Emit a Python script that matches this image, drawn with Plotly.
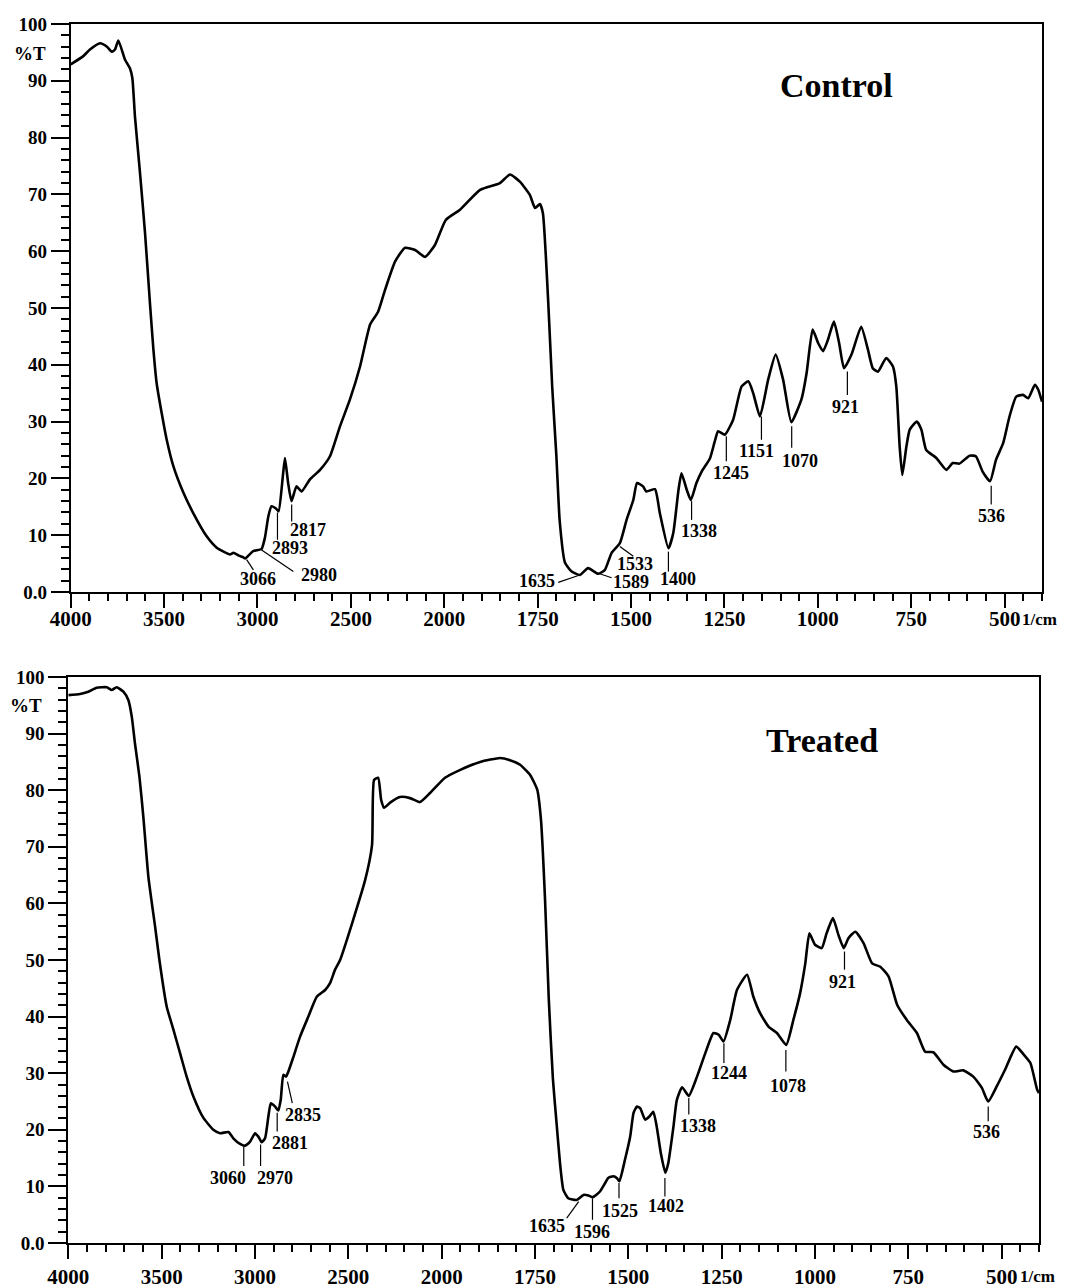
import plotly.graph_objects as go
import numpy as np

# ---------------- data (wavenumber in 1/cm, transmittance %T) ----------------
control_wn = [4000, 3934, 3897, 3843, 3806, 3780, 3763, 3745, 3709, 3683, 3670, 3656, 3629, 3602,
              3575, 3557, 3540, 3513, 3486, 3450, 3397, 3344, 3272, 3218, 3147, 3129, 3100, 3076,
              3066, 3023, 2978, 2960, 2942, 2925, 2901, 2887, 2866, 2853, 2836, 2818, 2791, 2764,
              2720, 2665, 2612, 2558, 2505, 2451, 2397, 2355, 2317, 2263, 2210, 2156, 2103, 2050,
              1996, 1958, 1904, 1851, 1824, 1797, 1771, 1757, 1744, 1736, 1722, 1711, 1700, 1691,
              1677, 1659, 1637, 1615, 1588, 1570, 1552, 1530, 1512, 1494, 1484, 1468, 1459, 1436,
              1423, 1400, 1387, 1373, 1365, 1351, 1340, 1325, 1311, 1289, 1276, 1267, 1249, 1227,
              1204, 1186, 1173, 1155, 1133, 1113, 1093, 1071, 1044, 1030, 1014, 999, 986, 973,
              957, 943, 930, 910, 884, 866, 853, 839, 817, 799, 790, 781, 774, 763, 754, 735, 723,
              710, 683, 656, 639, 621, 594, 577, 559, 539, 523, 504, 487, 469, 451, 437, 419, 410, 400]
control_T = [92.9, 94.3, 95.5, 96.6, 96.0, 95.1, 95.5, 97.1, 93.7, 92.2, 90.5, 83.7, 73.8, 63.2,
             50.5, 42.6, 36.8, 31.5, 26.8, 22.1, 17.5, 13.9, 9.8, 7.8, 6.6, 6.9, 6.4, 6.1,
             5.9, 7.2, 7.6, 9.6, 13.3, 15.1, 14.7, 14.2, 19.8, 23.6, 19.2, 16.0, 18.6, 17.7,
             19.8, 21.5, 23.9, 29.2, 33.9, 39.7, 47.1, 49.3, 53.2, 58.2, 60.6, 60.2, 59.0, 61.1,
             65.5, 67.3, 70.8, 72.0, 73.5, 72.2, 69.9, 67.6, 68.3, 66.7, 51.4, 36.0, 24.0, 12.5,
             5.2, 3.6, 3.0, 4.2, 3.2, 3.9, 6.9, 8.6, 12.7, 16.2, 19.2, 18.6, 17.7, 18.1,
             13.9, 7.7, 10.4, 18.0, 20.9, 18.0, 16.2, 19.2, 21.2, 23.5, 26.5, 28.3, 27.7, 30.3,
             36.2, 37.1, 35.0, 30.9, 37.4, 41.8, 37.4, 29.9, 33.9, 38.6, 46.2, 43.8, 42.4, 44.4,
             47.6, 43.8, 39.4, 41.8, 46.7, 42.7, 39.4, 38.8, 41.2, 39.7, 36.2, 25.6, 20.6, 25.6, 28.6, 30.0, 28.6,
             25.0, 23.6, 21.5, 22.7, 22.6, 24.0, 23.9, 21.2, 19.5, 23.3, 26.2, 30.9, 34.4, 34.7, 34.1, 36.5, 35.6, 33.5]

treated_wn = [4000, 3937, 3893, 3848, 3794, 3767, 3741, 3705, 3678, 3660, 3643, 3619, 3598, 3571,
              3535, 3512, 3473, 3437, 3401, 3366, 3330, 3276, 3223, 3187, 3142, 3116, 3080, 3053,
              3026, 3000, 2982, 2964, 2946, 2928, 2915, 2892, 2875, 2862, 2848, 2834, 2821, 2794,
              2758, 2714, 2669, 2624, 2598, 2571, 2544, 2410, 2373, 2362, 2340, 2324, 2308, 2276,
              2223, 2169, 2116, 2062, 1991, 1950, 1897, 1843, 1817, 1790, 1763, 1744, 1734, 1723,
              1713, 1702, 1692, 1683, 1674, 1661, 1638, 1620, 1607, 1595, 1576, 1562, 1554, 1540,
              1531, 1524, 1509, 1495, 1486, 1477, 1468, 1455, 1443, 1433, 1424, 1413, 1401, 1393,
              1379, 1370, 1356, 1338, 1316, 1294, 1272, 1258, 1245, 1227, 1209, 1182, 1165, 1147,
              1124, 1102, 1077, 1058, 1040, 1026, 1015, 1000, 982, 969, 952, 937, 923, 910, 892,
              870, 847, 825, 803, 780, 754, 727, 705, 683, 656, 629, 603, 576, 553, 536, 513, 491,
              461, 441, 423, 405, 400]
treated_T = [96.8, 97.0, 97.4, 98.1, 98.2, 97.7, 98.2, 97.4, 95.9, 93.0, 88.3, 82.4, 75.3, 64.7,
             55.9, 50.0, 41.8, 37.7, 33.5, 29.4, 25.9, 22.1, 20.0, 19.4, 19.6, 18.5, 17.5, 17.2,
             17.9, 19.4, 18.8, 17.8, 18.5, 22.4, 24.7, 24.1, 23.4, 25.3, 29.7, 29.4, 30.3, 32.9,
             36.5, 40.0, 43.5, 44.7, 45.9, 48.3, 50.0, 64.1, 70.3, 81.8, 82.2, 78.3, 76.9, 77.8,
             78.8, 78.6, 77.9, 79.5, 82.2, 83.6, 85.0, 85.7, 85.3, 84.5, 82.7, 80.1, 74.8, 60.6,
             43.0, 29.0, 21.0, 14.1, 9.4, 7.9, 7.6, 8.5, 8.4, 8.1, 9.1, 10.6, 11.5, 11.8,
             11.5, 10.9, 14.7, 18.8, 23.0, 24.1, 23.8, 21.8, 22.4, 23.2, 20.6, 15.9, 12.4, 14.1,
             20.6, 25.3, 27.5, 26.0, 29.4, 33.5, 37.1, 36.8, 35.6, 39.4, 44.7, 47.4, 43.5, 40.6,
             38.2, 37.1, 35.0, 39.4, 44.1, 49.4, 54.7, 52.7, 52.1, 54.7, 57.4, 54.4, 52.1, 53.9, 55.0,
             53.0, 49.4, 48.8, 47.1, 42.1, 39.4, 37.1, 33.8, 33.7, 31.5, 30.3, 30.5, 29.4, 27.4, 25.0, 27.7, 30.6,
             34.7, 33.3, 31.8, 27.1, 26.5]

x_tick_labels = [4000, 3500, 3000, 2500, 2000, 1750, 1500, 1250, 1000, 750, 500]
y_tick_values = [0, 10, 20, 30, 40, 50, 60, 70, 80, 90, 100]
y_tick_text = ["0.0", "10", "20", "30", "40", "50", "60", "70", "80", "90", "100"]

# peak labels: (label, line start wn, line start T, line end wn, line end T, text wn, text T)
control_peaks = [
    ("2817", 2817, 15.4, 2817, 12.4, 2727, 11.0),
    ("2893", 2893, 14.0, 2893, 9.2, 2826, 7.8),
    ("3066", 3058, 5.7, 3022, 3.9, 2996, 2.3),
    ("2980", 2978, 7.4, 2808, 3.6, 2672, 3.0),
    ("1635", 1637, 3.0, 1695, 1.7, 1753, 1.9),
    ("1589", 1588, 3.3, 1552, 2.5, 1500, 1.7),
    ("1533", 1530, 8.0, 1494, 6.3, 1490, 5.0),
    ("1400", 1400, 7.1, 1400, 3.6, 1374, 2.3),
    ("1338", 1338, 16.0, 1338, 12.7, 1317, 10.8),
    ("1245", 1245, 27.4, 1245, 23.0, 1233, 21.0),
    ("1151", 1151, 30.9, 1151, 26.8, 1163, 24.9),
    ("1070", 1070, 29.2, 1070, 25.4, 1048, 23.1),
    ("921", 921, 38.8, 921, 34.7, 926, 32.5),
    ("536", 536, 18.7, 536, 15.4, 534, 13.4),
]
treated_peaks = [
    ("3060", 3060, 17.1, 3060, 13.6, 3144, 11.5),
    ("2970", 2970, 17.4, 2970, 13.6, 2892, 11.5),
    ("2881", 2881, 23.0, 2881, 19.7, 2812, 17.7),
    ("2835", 2826, 28.5, 2800, 24.7, 2741, 22.7),
    ("1635", 1633, 7.3, 1665, 4.4, 1717, 3.0),
    ("1596", 1596, 7.9, 1596, 4.1, 1596, 2.0),
    ("1525", 1525, 10.6, 1525, 7.9, 1522, 5.6),
    ("1402", 1402, 11.5, 1402, 8.2, 1399, 6.5),
    ("1338", 1338, 25.6, 1338, 22.7, 1314, 20.6),
    ("1244", 1244, 35.3, 1244, 31.8, 1231, 30.0),
    ("1078", 1078, 34.1, 1078, 30.3, 1072, 27.8),
    ("921", 921, 51.5, 921, 48.3, 927, 46.2),
    ("536", 536, 24.1, 536, 21.5, 540, 19.6),
]


# ---------------- axis transform (scale doubles below 2000 1/cm) ----------------
def to_u(w):
    w = np.asarray(w, dtype=float)
    return np.where(w >= 2000, (4000 - w) / 500.0, 4 + (2000 - w) / 250.0)


FONT = "Liberation Serif"
OFF = 8                      # page body margin offset
W, H = 1066 - OFF, 1288 - OFF


def fx(px):                  # page x-pixel -> paper fraction
    return (px - OFF) / W


def fy(py):                  # page y-pixel -> paper fraction (from bottom)
    return 1 - (py - OFF) / H


fig = go.Figure()

fig.add_trace(go.Scatter(x=to_u(control_wn), y=control_T, mode="lines",
                         line=dict(color="black", width=2.6, shape="spline", smoothing=0.5),
                         xaxis="x", yaxis="y", showlegend=False, hoverinfo="skip"))
fig.add_trace(go.Scatter(x=to_u(treated_wn), y=treated_T, mode="lines",
                         line=dict(color="black", width=2.6, shape="spline", smoothing=0.5),
                         xaxis="x2", yaxis="y2", showlegend=False, hoverinfo="skip"))

tickvals_u = [float(v) for v in to_u(x_tick_labels)]
ticktext_x = [str(v) for v in x_tick_labels]
minor_u = [round(v, 3) for v in np.arange(0, 10.41, 0.2)]


def xaxis_cfg(domain, anchor, standoff):
    return dict(domain=domain, anchor=anchor, range=[0, 10.4], showgrid=False, zeroline=False,
                automargin=False,
                showline=True, linecolor="black", linewidth=2, mirror=True,
                ticks="outside", ticklen=14, tickwidth=2, tickcolor="black",
                tickmode="array", tickvals=tickvals_u, ticktext=ticktext_x,
                ticklabelstandoff=standoff,
                tickfont=dict(family=FONT, size=21, color="black", weight="bold"),
                minor=dict(tickmode="array", tickvals=minor_u, ticks="outside", ticklen=7,
                           tickwidth=1.6, tickcolor="black"))


def yaxis_cfg(domain, anchor):
    return dict(domain=domain, anchor=anchor, range=[0, 100], showgrid=False, zeroline=False,
                automargin=False,
                showline=True, linecolor="black", linewidth=2, mirror=True,
                ticks="outside", ticklen=18, tickwidth=2, tickcolor="black",
                tickmode="array", tickvals=y_tick_values, ticktext=y_tick_text,
                tickfont=dict(family=FONT, size=19, color="black", weight="bold"),
                minor=dict(dtick=2, tick0=0, ticks="outside", ticklen=8, tickwidth=1.6,
                           tickcolor="black"))


fig.update_layout(
    width=W, height=H, autosize=False,
    margin=dict(l=0, r=0, t=0, b=0, pad=0, autoexpand=False),
    paper_bgcolor="white", plot_bgcolor="white",
    xaxis=xaxis_cfg([fx(70.7), fx(1042)], "y", -7),
    yaxis=yaxis_cfg([fy(592), fy(24)], "x"),
    xaxis2=xaxis_cfg([fx(68.3), fx(1039)], "y2", 0),
    yaxis2=yaxis_cfg([fy(1243), fy(677)], "x2"),
)

shapes = []
annotations = []
for peaks, xr, yr in [(control_peaks, "x", "y"), (treated_peaks, "x2", "y2")]:
    for lab, w0, t0, w1, t1, wt, tt in peaks:
        shapes.append(dict(type="line", xref=xr, yref=yr,
                           x0=float(to_u(w0)), y0=t0, x1=float(to_u(w1)), y1=t1,
                           line=dict(color="black", width=1.2)))
        annotations.append(dict(xref=xr, yref=yr, x=float(to_u(wt)), y=tt, text=lab,
                                showarrow=False, xanchor="center", yanchor="middle",
                                font=dict(family=FONT, size=18, color="black", weight="bold")))


def paper_text(px, py, text, size, xanchor="center"):
    return dict(xref="paper", yref="paper", x=fx(px), y=fy(py), text=text,
                showarrow=False, xanchor=xanchor, yanchor="middle",
                font=dict(family=FONT, size=size, color="black", weight="bold"))


# panel titles, axis unit labels
annotations += [
    paper_text(836, 86, "Control", 34),
    paper_text(822, 740, "Treated", 34),
    paper_text(30, 54, "%T", 19),
    paper_text(26, 705, "%T", 19),
    paper_text(1020, 619, "1/cm", 17, "left"),
    paper_text(1018, 1276, "1/cm", 17, "left"),
]

fig.update_layout(shapes=shapes, annotations=annotations)
fig.write_html("out.html")
